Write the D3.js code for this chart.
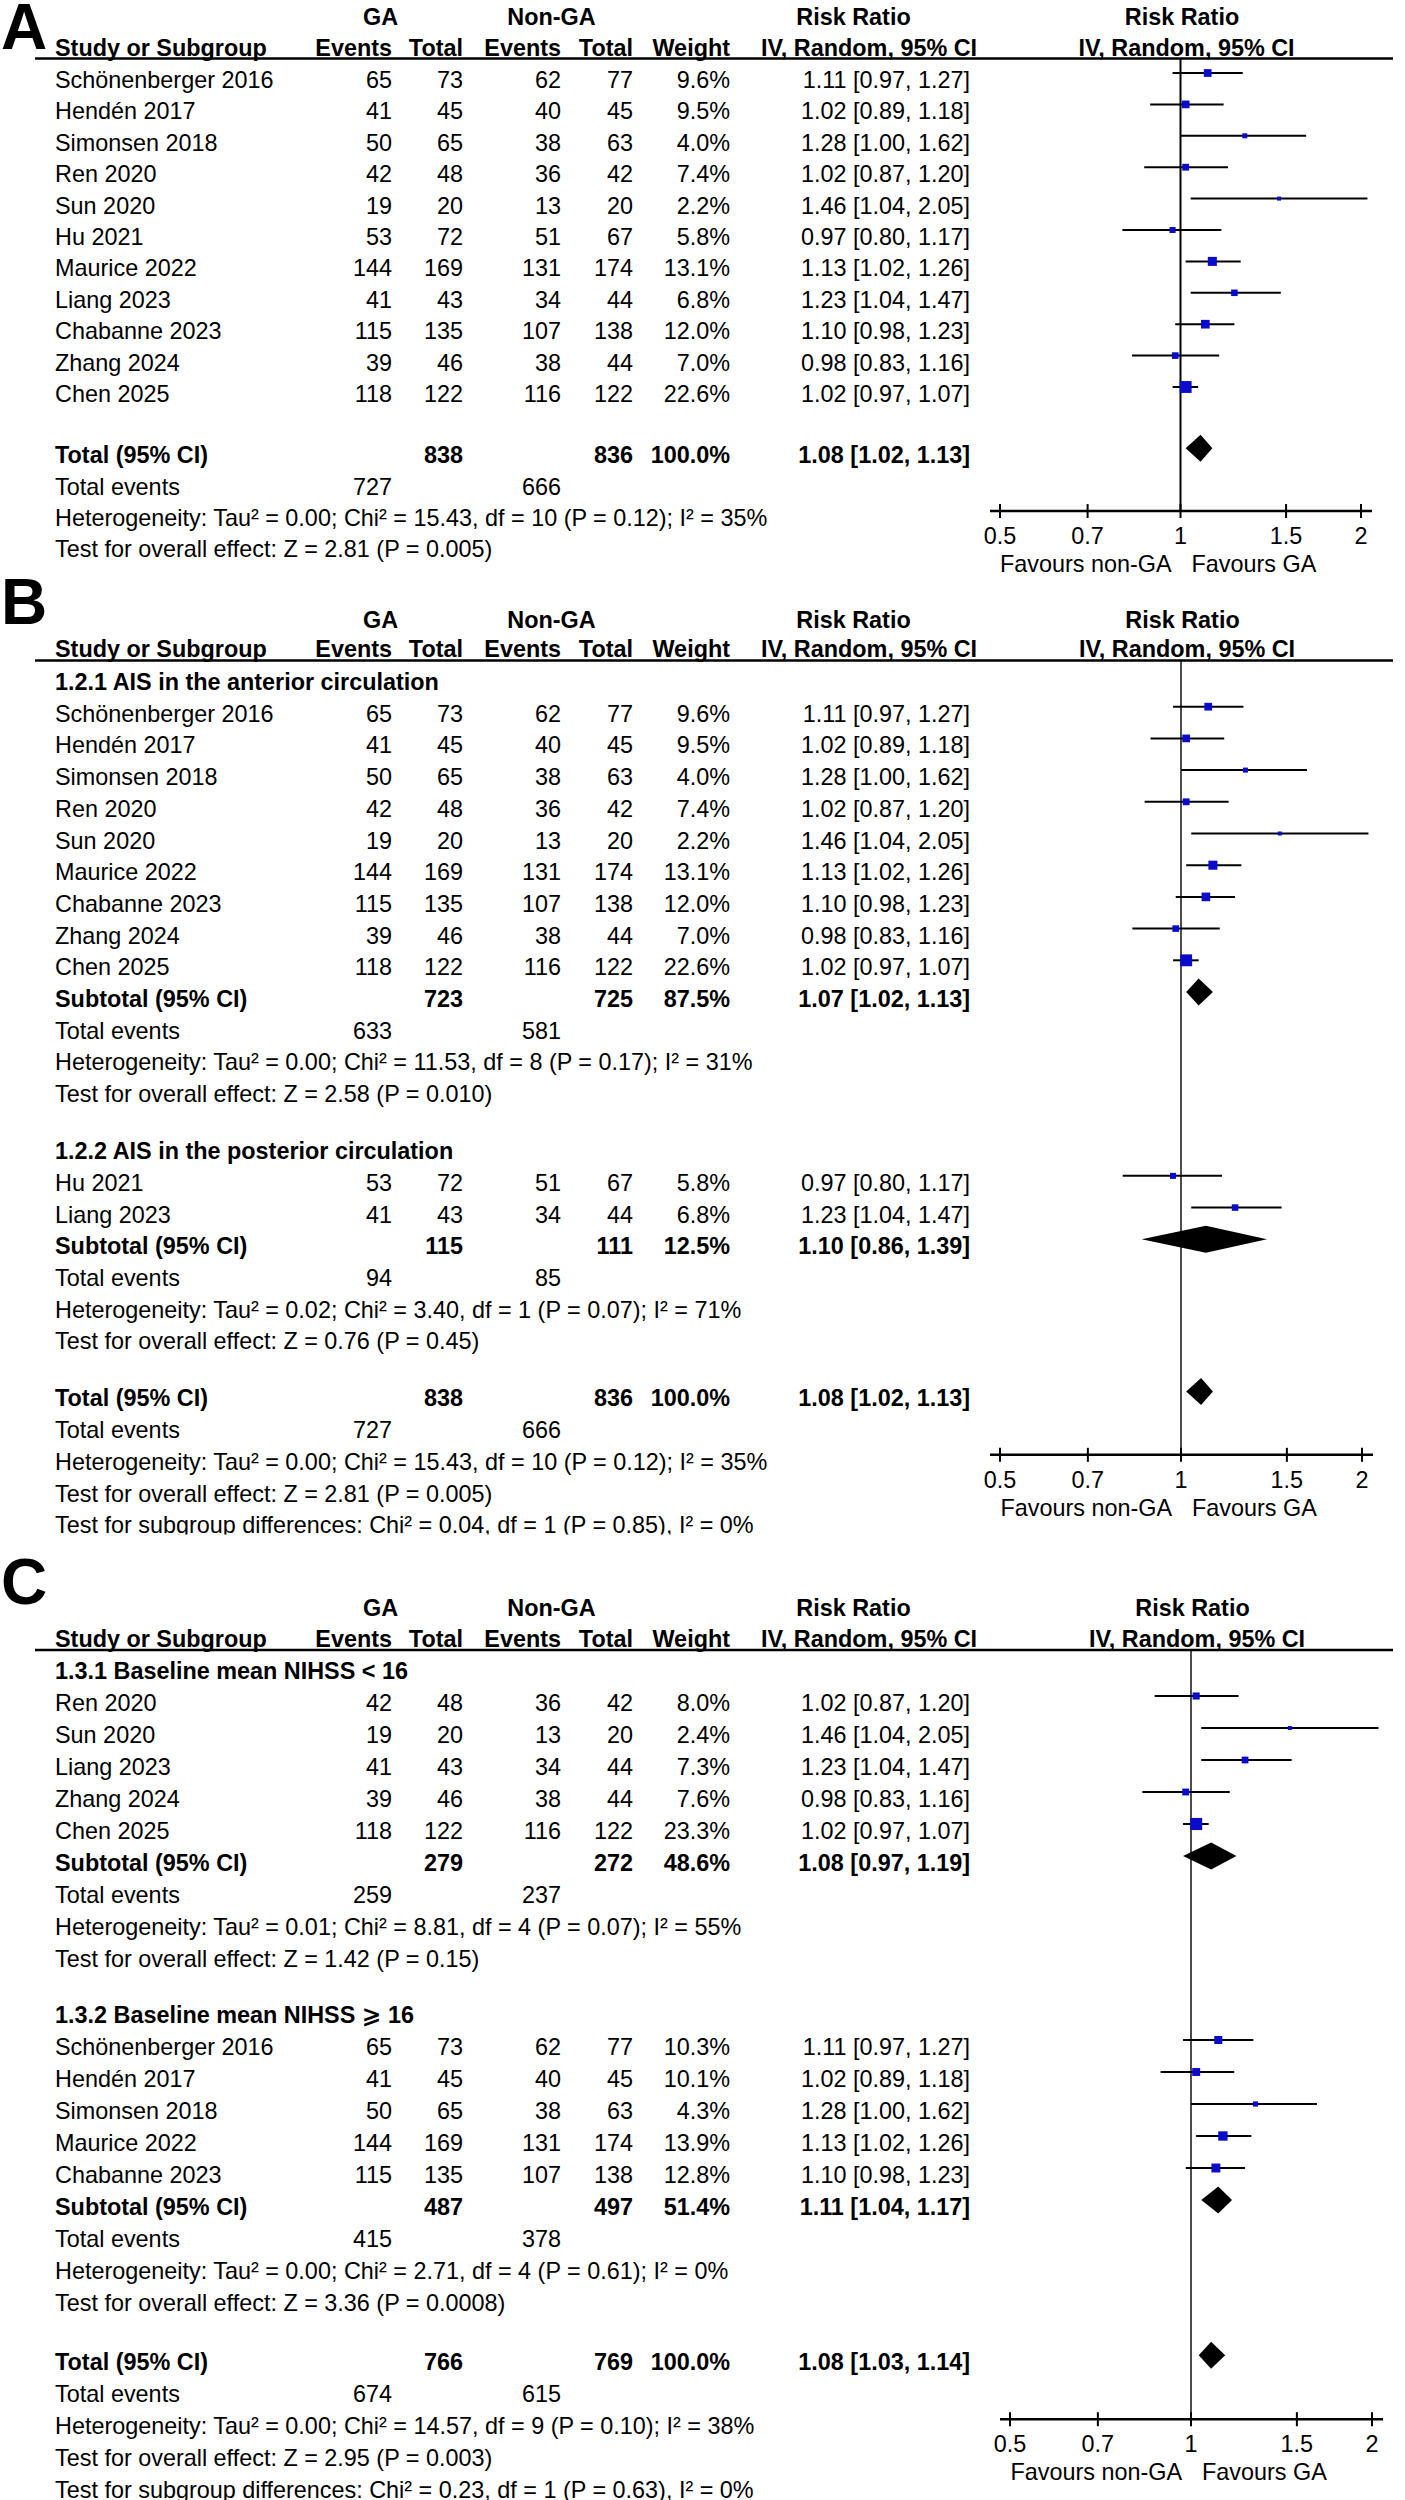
<!DOCTYPE html>
<html><head><meta charset="utf-8">
<script src="https://cdn.jsdelivr.net/npm/d3@7"></script>
<style>
body{margin:0;background:#fff;}
svg{display:block;background:#fff;}
text{font-family:"Liberation Sans", Arial, "DejaVu Sans", sans-serif;font-size:23.4px;fill:#000;}
</style></head><body>
<svg id="chart" width="1405" height="2500"></svg>
<script>
// ---------------- DATA ----------------
const studyNames = ["Schönenberger 2016","Hendén 2017","Simonsen 2018","Ren 2020","Sun 2020","Hu 2021","Maurice 2022","Liang 2023","Chabanne 2023","Zhang 2024","Chen 2025"];
const gaEvents    = [65, 41, 50, 42, 19, 53, 144, 41, 115, 39, 118];
const gaTotals    = [73, 45, 65, 48, 20, 72, 169, 43, 135, 46, 122];
const nonGaEvents = [62, 40, 38, 36, 13, 51, 131, 34, 107, 38, 116];
const nonGaTotals = [77, 45, 63, 42, 20, 67, 174, 44, 138, 44, 122];
const riskRatio   = [1.11, 1.02, 1.28, 1.02, 1.46, 0.97, 1.13, 1.23, 1.10, 0.98, 1.02];
const ciLower     = [0.97, 0.89, 1.00, 0.87, 1.04, 0.80, 1.02, 1.04, 0.98, 0.83, 0.97];
const ciUpper     = [1.27, 1.18, 1.62, 1.20, 2.05, 1.17, 1.26, 1.47, 1.23, 1.16, 1.07];
const weightsAB   = [9.6, 9.5, 4.0, 7.4, 2.2, 5.8, 13.1, 6.8, 12.0, 7.0, 22.6];
const weightsC    = [10.3, 10.1, 4.3, 8.0, 2.4, null, 13.9, 7.3, 12.8, 7.6, 23.3];

const groupB1 = ["Schönenberger 2016","Hendén 2017","Simonsen 2018","Ren 2020","Sun 2020","Maurice 2022","Chabanne 2023","Zhang 2024","Chen 2025"];
const groupB2 = ["Hu 2021","Liang 2023"];
const groupC1 = ["Ren 2020","Sun 2020","Liang 2023","Zhang 2024","Chen 2025"];
const groupC2 = ["Schönenberger 2016","Hendén 2017","Simonsen 2018","Maurice 2022","Chabanne 2023"];

const subgroupLabels      = ["1.2.1 AIS in the anterior circulation","1.2.2 AIS in the posterior circulation","1.3.1 Baseline mean NIHSS < 16","1.3.2 Baseline mean NIHSS ⩾ 16"];
const subgroupGaTotals    = [723, 115, 279, 487];
const subgroupNonGaTotals = [725, 111, 272, 497];
const subgroupWeights     = [87.5, 12.5, 48.6, 51.4];
const subgroupRR          = [1.07, 1.10, 1.08, 1.11];
const subgroupLower       = [1.02, 0.86, 0.97, 1.04];
const subgroupUpper       = [1.13, 1.39, 1.19, 1.17];
const subgroupGaEvents    = [633, 94, 259, 415];
const subgroupNonGaEvents = [581, 85, 237, 378];
const subgroupHeterogeneity = [
  "Tau² = 0.00; Chi² = 11.53, df = 8 (P = 0.17); I² = 31%",
  "Tau² = 0.02; Chi² = 3.40, df = 1 (P = 0.07); I² = 71%",
  "Tau² = 0.01; Chi² = 8.81, df = 4 (P = 0.07); I² = 55%",
  "Tau² = 0.00; Chi² = 2.71, df = 4 (P = 0.61); I² = 0%"];
const subgroupEffect = ["Z = 2.58 (P = 0.010)","Z = 0.76 (P = 0.45)","Z = 1.42 (P = 0.15)","Z = 3.36 (P = 0.0008)"];

// overall results for panels A, B, C
const overallGaTotals    = [838, 838, 766];
const overallNonGaTotals = [836, 836, 769];
const overallRR          = [1.08, 1.08, 1.08];
const overallLower       = [1.02, 1.02, 1.03];
const overallUpper       = [1.13, 1.13, 1.14];
const overallGaEvents    = [727, 727, 674];
const overallNonGaEvents = [666, 666, 615];
const overallHeterogeneity = [
  "Tau² = 0.00; Chi² = 15.43, df = 10 (P = 0.12); I² = 35%",
  "Tau² = 0.00; Chi² = 15.43, df = 10 (P = 0.12); I² = 35%",
  "Tau² = 0.00; Chi² = 14.57, df = 9 (P = 0.10); I² = 38%"];
const overallEffect = ["Z = 2.81 (P = 0.005)","Z = 2.81 (P = 0.005)","Z = 2.95 (P = 0.003)"];
const subgroupDifferences = [null, "Chi² = 0.04, df = 1 (P = 0.85), I² = 0%", "Chi² = 0.23, df = 1 (P = 0.63), I² = 0%"];

const axisTicks = [0.5, 0.7, 1, 1.5, 2];
const axisTickLabels = ["0.5", "0.7", "1", "1.5", "2"];
const favourLabels = ["Favours non-GA", "Favours GA"];
const panelLetters = ["A", "B", "C"];

// ---------------- LAYOUT ----------------
const svg = d3.select("#chart");
const COL = {name:55, gaEv:392, gaTot:463, nonEv:561, nonTot:633, weight:730, ci:970,
             gaHead:380.5, nonHead:551.5, rrHead:853.5, ivHead:869};
const fmtW = w => w.toFixed(1) + "%";
const fmtCI = (r,l,u) => `${r.toFixed(2)} [${l.toFixed(2)}, ${u.toFixed(2)}]`;
const sideScale = d3.scaleSqrt().domain([0, 25]).range([0, 12.5]);

function txt(g, x, y, s, anchor, bold, size) {
  const t = g.append("text").attr("x", x).attr("y", y).text(s);
  if (anchor) t.attr("text-anchor", anchor);
  if (bold) t.style("font-weight", "bold");
  if (size) t.style("font-size", size + "px");
  return t;
}

function studyLines(names, weights, start) {
  return names.map((n, k) => {
    const i = studyNames.indexOf(n);
    return {slot: start + k, kind: "study", i, w: weights[i]};
  });
}

function drawPanel(cfg, lines, p) {
  const g = svg.append("g");
  if (cfg.clipY) {
    const id = "clip" + p;
    svg.append("clipPath").attr("id", id).append("rect")
      .attr("x", 0).attr("y", 0).attr("width", 1405).attr("height", cfg.clipY);
    g.attr("clip-path", `url(#${id})`);
  }
  const y = d3.scaleLinear().domain([0, 1]).range([cfg.y0, cfg.y0 + cfg.step]);
  const x = d3.scaleLog().domain([0.5, 2]).range(cfg.xr);
  const zeroX = x(1);
  const mark = s => y(s) - 15;

  // letter
  txt(g, cfg.letterX, cfg.letterBase, panelLetters[p], null, true, 64);
  // headers
  txt(g, COL.gaHead, cfg.gaBase, "GA", "middle", true);
  txt(g, COL.nonHead, cfg.gaBase, "Non-GA", "middle", true);
  txt(g, COL.rrHead, cfg.gaBase, "Risk Ratio", "middle", true);
  txt(g, zeroX + 1.5, cfg.gaBase, "Risk Ratio", "middle", true);
  txt(g, COL.name, cfg.headBase, "Study or Subgroup", null, true);
  txt(g, COL.gaEv, cfg.headBase, "Events", "end", true);
  txt(g, COL.gaTot, cfg.headBase, "Total", "end", true);
  txt(g, COL.nonEv, cfg.headBase, "Events", "end", true);
  txt(g, COL.nonTot, cfg.headBase, "Total", "end", true);
  txt(g, COL.weight, cfg.headBase, "Weight", "end", true);
  txt(g, COL.ivHead, cfg.headBase, "IV, Random, 95% CI", "middle", true);
  txt(g, zeroX + 6, cfg.headBase, "IV, Random, 95% CI", "middle", true);
  g.append("line").attr("x1", 35).attr("x2", 1393).attr("y1", cfg.rule).attr("y2", cfg.rule)
    .attr("stroke", "#000").attr("stroke-width", 2.5);

  const axisY = mark(cfg.axisSlot);
  // zero line
  g.append("line").attr("x1", zeroX).attr("x2", zeroX).attr("y1", cfg.rule).attr("y2", axisY)
    .attr("stroke", "#000").attr("stroke-width", cfg.zeroW);

  lines.forEach(L => {
    const by = y(L.slot);
    if (L.kind === "study") {
      const i = L.i;
      txt(g, COL.name, by, studyNames[i]);
      txt(g, COL.gaEv, by, gaEvents[i], "end");
      txt(g, COL.gaTot, by, gaTotals[i], "end");
      txt(g, COL.nonEv, by, nonGaEvents[i], "end");
      txt(g, COL.nonTot, by, nonGaTotals[i], "end");
      txt(g, COL.weight, by, fmtW(L.w), "end");
      txt(g, COL.ci, by, fmtCI(riskRatio[i], ciLower[i], ciUpper[i]), "end");
      const my = mark(L.slot);
      g.append("line").attr("x1", x(ciLower[i])).attr("x2", x(ciUpper[i]))
        .attr("y1", my).attr("y2", my).attr("stroke", "#000").attr("stroke-width", 2);
      const s = Math.max(4, sideScale(L.w));
      g.append("rect").attr("x", x(riskRatio[i]) - s / 2).attr("y", my - s / 2)
        .attr("width", s).attr("height", s).attr("fill", "#0b0bcc");
    } else if (L.kind === "heading") {
      txt(g, COL.name, by, subgroupLabels[L.k], null, true);
    } else if (L.kind === "sum") {
      txt(g, COL.name, by, L.label, null, true);
      txt(g, COL.gaTot, by, L.gaTot, "end", true);
      txt(g, COL.nonTot, by, L.nonTot, "end", true);
      txt(g, COL.weight, by, fmtW(L.w), "end", true);
      txt(g, COL.ci, by, fmtCI(L.rr, L.lo, L.hi), "end", true);
      const my = mark(L.slot), h = 13.5;
      g.append("path").attr("d", d3.line()([[x(L.lo), my], [x(L.rr), my - h], [x(L.hi), my], [x(L.rr), my + h]]) + "Z")
        .attr("fill", "#000");
    } else if (L.kind === "events") {
      txt(g, COL.name, by, "Total events");
      txt(g, COL.gaEv, by, L.ga, "end");
      txt(g, COL.nonEv, by, L.non, "end");
    } else if (L.kind === "note") {
      txt(g, COL.name, by, L.text);
    }
  });

  // axis
  g.append("line").attr("x1", x(0.5) - 10).attr("x2", x(2) + 11).attr("y1", axisY).attr("y2", axisY)
    .attr("stroke", "#000").attr("stroke-width", 2.5);
  axisTicks.forEach((t, k) => {
    g.append("line").attr("x1", x(t)).attr("x2", x(t)).attr("y1", axisY - 7).attr("y2", axisY + 7)
      .attr("stroke", "#000").attr("stroke-width", 2);
    txt(g, x(t), axisY + 33, axisTickLabels[k], "middle");
  });
  txt(g, zeroX - 9, axisY + 61, favourLabels[0], "end");
  txt(g, zeroX + 11, axisY + 61, favourLabels[1], "start");
}

function overallBlock(p, start) {
  const arr = [
    {slot: start, kind: "sum", label: "Total (95% CI)", gaTot: overallGaTotals[p], nonTot: overallNonGaTotals[p], w: 100,
     rr: overallRR[p], lo: overallLower[p], hi: overallUpper[p]},
    {slot: start + 1, kind: "events", ga: overallGaEvents[p], non: overallNonGaEvents[p]},
    {slot: start + 2, kind: "note", text: "Heterogeneity: " + overallHeterogeneity[p]},
    {slot: start + 3, kind: "note", text: "Test for overall effect: " + overallEffect[p]}];
  if (subgroupDifferences[p]) arr.push({slot: start + 4, kind: "note", text: "Test for subgroup differences: " + subgroupDifferences[p]});
  return arr;
}
function subgroupBlock(k, names, weights, start) {
  return [
    {slot: start, kind: "heading", k},
    ...studyLines(names, weights, start + 1),
    {slot: start + names.length + 1, kind: "sum", label: "Subtotal (95% CI)", gaTot: subgroupGaTotals[k], nonTot: subgroupNonGaTotals[k],
     w: subgroupWeights[k], rr: subgroupRR[k], lo: subgroupLower[k], hi: subgroupUpper[k]},
    {slot: start + names.length + 2, kind: "events", ga: subgroupGaEvents[k], non: subgroupNonGaEvents[k]},
    {slot: start + names.length + 3, kind: "note", text: "Heterogeneity: " + subgroupHeterogeneity[k]},
    {slot: start + names.length + 4, kind: "note", text: "Test for overall effect: " + subgroupEffect[k]}];
}

// Panel A
const linesA = [...studyLines(studyNames, weightsAB, 0), ...overallBlock(0, 11.95)];
drawPanel({letterX: 1, letterBase: 49, gaBase: 25, headBase: 55.5, rule: 58.5, y0: 88, step: 31.4,
  xr: [1000, 1361], zeroW: 2, axisSlot: 13.95}, linesA, 0);

// Panel B
const linesB = [...subgroupBlock(0, groupB1, weightsAB, 0), ...subgroupBlock(1, groupB2, weightsAB, 14.8), ...overallBlock(1, 22.6)];
drawPanel({letterX: 1, letterBase: 624, gaBase: 628, headBase: 657, rule: 660.5, y0: 690, step: 31.7,
  xr: [1000, 1362], zeroW: 1.4, axisSlot: 24.6, clipY: 1534.5}, linesB, 1);

// Panel C
const linesC = [...subgroupBlock(2, groupC1, weightsC, 0), ...subgroupBlock(3, groupC2, weightsC, 10.75), ...overallBlock(2, 21.6)];
drawPanel({letterX: 1, letterBase: 1604, gaBase: 1616, headBase: 1647, rule: 1650, y0: 1679, step: 32,
  xr: [1010, 1372], zeroW: 1.4, axisSlot: 23.6}, linesC, 2);
</script>
</body></html>
